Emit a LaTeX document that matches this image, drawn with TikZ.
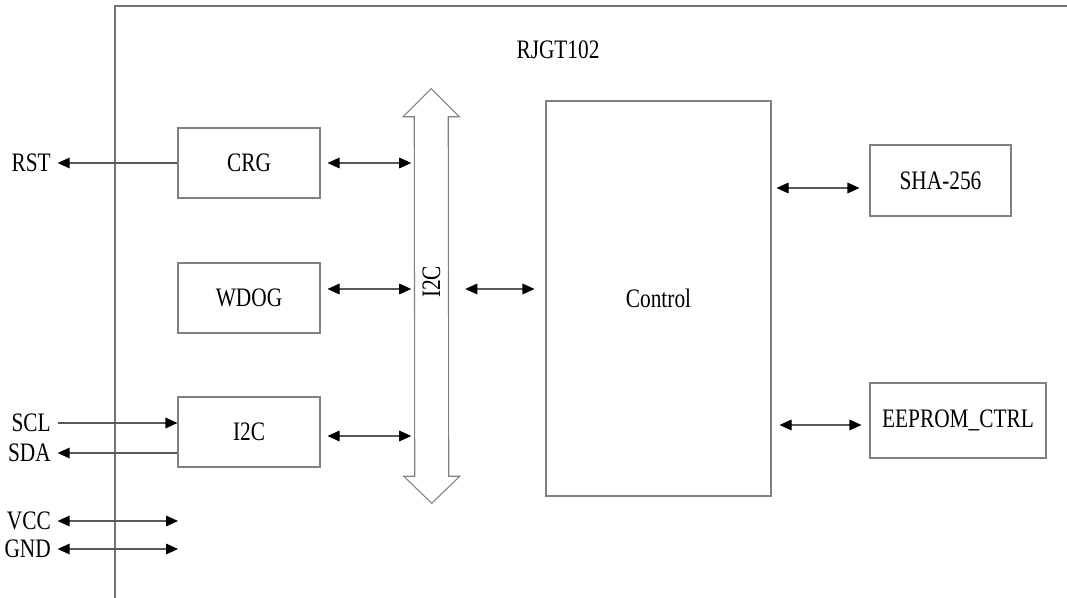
\documentclass[tikz,border=0pt]{standalone}
\usepackage{fontspec}
\setmainfont[FakeStretch=0.8]{Liberation Serif}
\usetikzlibrary{arrows.meta,positioning,calc}

\begin{document}
\begin{tikzpicture}[x=0.75pt,y=-0.75pt,
  blk/.style={draw=black!50,line width=0.8pt,rectangle,inner sep=0pt,
    font=\fontsize{20}{24}\selectfont},
  lbl/.style={inner sep=0pt,font=\fontsize{20}{24}\selectfont},
  biarrow/.style={draw=black!65,line width=0.8pt,{Triangle[length=9pt,width=8pt,color=black,fill=black]}-{Triangle[length=9pt,width=8pt,color=black,fill=black]}},
  onearrow/.style={draw=black!65,line width=0.8pt,-{Triangle[length=9pt,width=8pt,color=black,fill=black]}}]
\useasboundingbox (0,0) rectangle (1067,598);

% chip outline
\draw[black!55,line width=0.8pt] (115,598) -- (115,6) -- (1067,6);
\node[lbl] (chip) at (558,50) {RJGT102};

% blocks
\node[blk,minimum width=106.5pt,minimum height=52.5pt] (crg) at (249,163) {CRG};
\node[blk,minimum width=106.5pt,minimum height=52.5pt] (wdog) at (249,298) {WDOG};
\node[blk,minimum width=106.5pt,minimum height=52.5pt] (iic) at (249,432) {I2C};
\node[blk,minimum width=168.75pt,minimum height=296.25pt] (ctrl) at (658.5,298.5) {Control};
\node[blk,minimum width=105.75pt,minimum height=53.25pt] (sha) at (940.5,180.5) {SHA-256};
\node[blk,minimum width=132pt,minimum height=56.25pt] (eep) at (958,420.5) {EEPROM\_CTRL};

% bus
\node[minimum width=25.5pt,minimum height=269.25pt,inner sep=0pt] (bus) at (431.5,296.5) {};
\draw[black!50,line width=0.8pt] (bus.north west) -- ++(-11,0) -- ++(28,-28) -- ++(28,28)
  -- ++(-11,0) -- (bus.south east) -- ++(11,0) -- ++(-28,27) -- ++(-28,-27)
  -- ++(11,0) -- cycle;
\node[lbl,rotate=90] (buslbl) at ($(bus.center)+(0,-14.5)$) {I2C};

% pins
\node[lbl,anchor=east] (rst) at (51,163) {RST};
\node[lbl,anchor=east] (scl) at (51,423) {SCL};
\node[lbl,anchor=east] (sda) at (51,453) {SDA};
\node[lbl,anchor=east] (vcc) at (51,521) {VCC};
\node[lbl,anchor=east] (gnd) at (51,549) {GND};
\coordinate (vccend) at (178,521);
\coordinate (gndend) at (178,549);

% connections
\draw[onearrow,shorten >=5pt] (crg.west) -- (crg.west -| rst.east);
\draw[onearrow,shorten <=5pt] (scl.east) -- (scl.east -| iic.west);
\draw[onearrow,shorten >=5pt] (iic.west |- sda.east) -- (sda.east);
\draw[biarrow,shorten <=5pt] (vcc.east) -- (vccend);
\draw[biarrow,shorten <=5pt] (gnd.east) -- (gndend);

\draw[biarrow] ($(crg.east)+(7,0)$) -- ($(crg.east -| bus.west)+(-3,0)$);
\draw[biarrow] ($(wdog.east)+(7,-9)$) -- ($(wdog.east -| bus.west)+(-3,-9)$);
\draw[biarrow] ($(iic.east)+(7,4)$) -- ($(iic.east -| bus.west)+(-3,4)$);
\draw[biarrow] ($(bus.east)+(16.5,-7.5)$) -- ($(bus.east -| ctrl.west)+(-11,-7.5)$);
\draw[biarrow] ($(ctrl.east |- sha.west)+(5,7.5)$) -- ($(sha.west)+(-10,7.5)$);
\draw[biarrow] ($(ctrl.east |- eep.west)+(8,4.5)$) -- ($(eep.west)+(-8,4.5)$);
\end{tikzpicture}
\end{document}
